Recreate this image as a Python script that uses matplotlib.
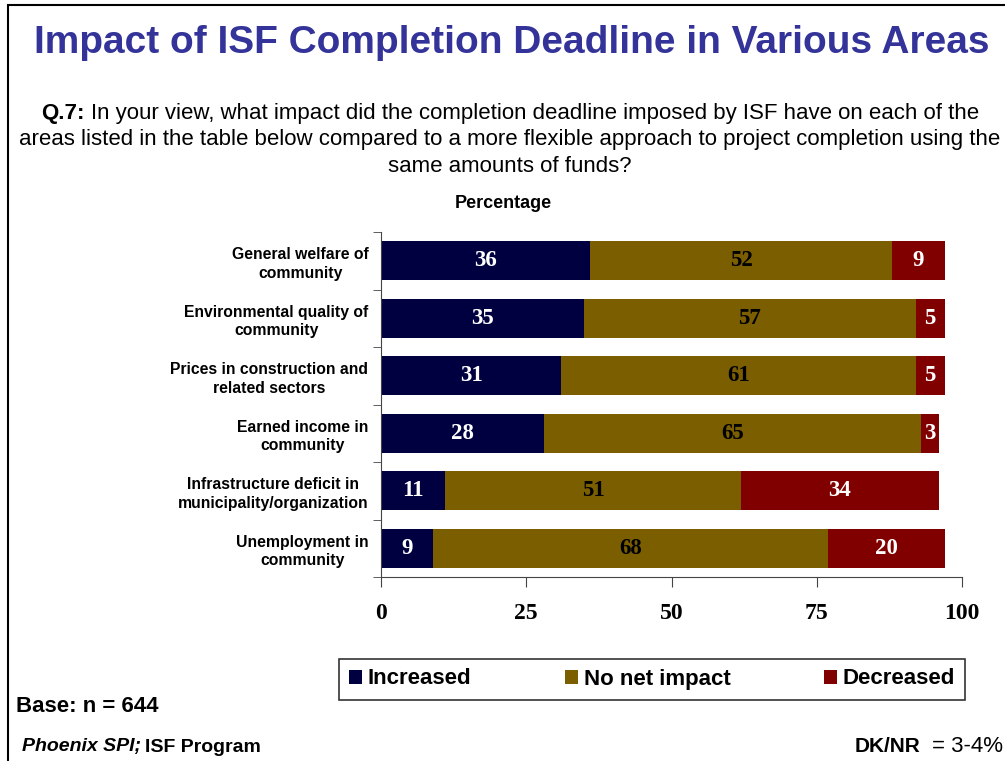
import matplotlib.pyplot as plt
import numpy as np
from matplotlib.patches import Rectangle

# survey answers, percent
areas = ["General welfare of\ncommunity",
         "Environmental quality of\ncommunity",
         "Prices in construction and\nrelated sectors",
         "Earned income in\ncommunity",
         "Infrastructure deficit in\nmunicipality/organization",
         "Unemployment in\ncommunity"]
increased = [36, 35, 31, 28, 11, 9]
no_impact = [52, 57, 61, 65, 51, 68]
decreased = [9, 5, 5, 3, 34, 20]
series_names = ["Increased", "No net impact", "Decreased"]
x_ticks = [0, 25, 50, 75, 100]

colors = ["#000040", "#7a5e00", "#800000"]
txt_colors = ["white", "black", "white"]

W, H = 1005, 761


def fx(px):
    return px / W


def fy(py):
    return 1 - py / H


fig = plt.figure(figsize=(10.05, 7.61), dpi=100)
ax = fig.add_axes([fx(381), fy(577), (962 - 381) / W, (577 - 232) / H])

y = np.arange(len(areas))
left = np.zeros(len(areas))
for vals, c, tc, name in zip([increased, no_impact, decreased], colors, txt_colors, series_names):
    bars = ax.barh(y, vals, left=left, height=0.68, color=c, label=name)
    for b, v in zip(bars, vals):
        ax.text(b.get_x() + b.get_width() / 2, b.get_y() + b.get_height() / 2, str(v),
                ha="center", va="center", color=tc, fontsize=16.5, fontweight="bold",
                family="Liberation Serif")
    left += np.array(vals)

ax.set_xlim(0, 100)
ax.set_ylim(len(areas) - 0.5, -0.5)
ax.set_yticks(y)
ax.set_yticklabels(areas, fontsize=11.3, fontweight="bold", family="Liberation Sans",
                   multialignment="center", linespacing=1.3)
ax.tick_params(axis="y", length=0, pad=9)
ax.set_yticks(np.arange(-0.5, len(areas)), minor=True)
ax.tick_params(axis="y", which="minor", length=6, direction="out", color="#444444")
ax.set_xticks(x_ticks)
ax.set_xticklabels([str(t) for t in x_ticks], fontsize=17, fontweight="bold", family="Liberation Serif")
ax.tick_params(axis="x", length=7, direction="out", pad=12, color="#444444")
for s in ["top", "right"]:
    ax.spines[s].set_visible(False)
for s in ["left", "bottom"]:
    ax.spines[s].set_color("#444444")

fig.text(fx(503), fy(204), "Percentage", ha="center", va="center",
         fontsize=13, fontweight="bold", family="Liberation Sans")

fig.text(fx(512), fy(43), "Impact of ISF Completion Deadline in Various Areas",
         ha="center", va="center", fontsize=28, fontweight="bold", color="#333399",
         family="Liberation Sans")

# question text
fig.text(fx(41), fy(113), "Q.7:", ha="left", va="center", fontsize=16,
         fontweight="bold", family="Liberation Sans")
fig.text(fx(91), fy(113),
         "In your view, what impact did the completion deadline imposed by ISF have on each of the",
         ha="left", va="center", fontsize=16, family="Liberation Sans")
fig.text(fx(510), fy(139),
         "areas listed in the table below compared to a more flexible approach to project completion using the",
         ha="center", va="center", fontsize=16, family="Liberation Sans")
fig.text(fx(510), fy(166), "same amounts of funds?",
         ha="center", va="center", fontsize=16, family="Liberation Sans")

leg = fig.legend(loc="center", bbox_to_anchor=(fx(652), fy(679)), ncol=3,
                 prop={"family": "Liberation Sans", "weight": "bold", "size": 16},
                 frameon=True, fancybox=False, edgecolor="black", handlelength=0.6,
                 handleheight=0.6, columnspacing=4.2, handletextpad=0.25,
                 borderpad=0.45, borderaxespad=0)
leg.get_frame().set_linewidth(1.2)

fig.text(fx(16), fy(706), "Base: n = 644", ha="left", va="center", fontsize=16,
         fontweight="bold", family="Liberation Sans")
fig.text(fx(22), fy(747), "Phoenix SPI;", ha="left", va="center", fontsize=14,
         fontweight="bold", style="italic", family="Liberation Sans")
fig.text(fx(145), fy(747), "ISF Program", ha="left", va="center", fontsize=14,
         fontweight="bold", family="Liberation Sans")
fig.text(fx(1003), fy(747), "= 3-4%", ha="right", va="center", fontsize=16,
         family="Liberation Sans")
fig.text(fx(920), fy(747), "DK/NR", ha="right", va="center", fontsize=15,
         fontweight="bold", family="Liberation Sans")

# slide frame
fig.patches.append(Rectangle((fx(8), -0.1), 1.1, 1 - 5 / H + 0.1, transform=fig.transFigure,
                             fill=False, edgecolor="black", linewidth=1.5))

fig.savefig("out.png", dpi=100)
